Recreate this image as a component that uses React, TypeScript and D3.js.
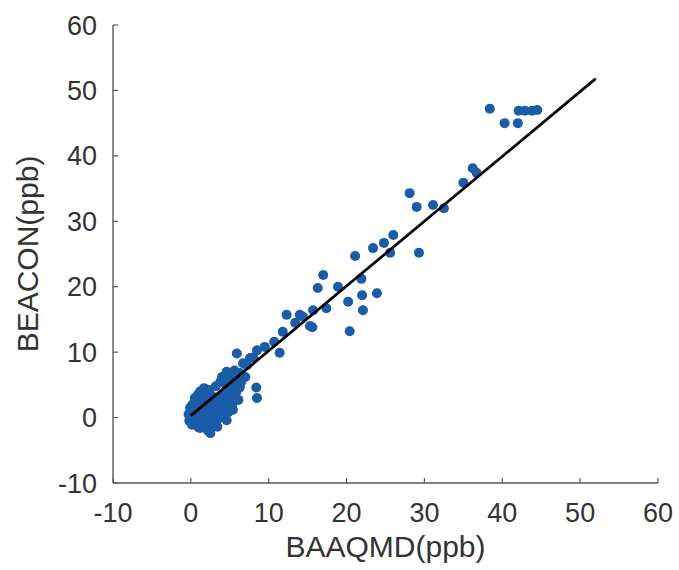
import React from "react";
import * as d3 from "d3";

const xTicks = [-10, 0, 10, 20, 30, 40, 50, 60];
const yTicks = [-10, 0, 10, 20, 30, 40, 50, 60];
const xLabel = "BAAQMD(ppb)";
const yLabel = "BEACON(ppb)";

// BAAQMD values (x)
const baaqmd = [
  -0.3, -0.2, 0.0, 0.1, 0.2, 0.3, 0.4, 0.5, 0.6, 0.7, 0.8, 0.9, 1.0, 1.0, 1.1, 1.2, 1.3, 1.4, 1.5, 1.5,
  1.6, 1.7, 1.8, 1.9, 2.0, 2.0, 2.1, 2.2, 2.3, 2.4, 2.5, 2.6, 2.7, 2.8, 2.9, 3.0, 3.0, 3.2, 3.3, 3.4,
  3.5, 3.6, 3.8, 3.9, 4.0, 4.0, 4.2, 4.3, 4.5, 4.6, 4.7, 4.8, 5.0, 5.0, 5.2, 5.3, 5.5, 5.6, 5.8, 5.9,
  6.0, 6.2, 6.3, 6.5, 6.7, 7.0, 7.2, 7.6, 8.0, 8.5, 8.4, 8.5, 9.5, 10.7, 11.4, 11.8, 12.3, 13.4, 14.0, 14.4,
  15.3, 15.6, 15.7, 17.4, 16.3, 17.0, 18.9, 20.2, 20.4, 21.9, 22.0, 22.1, 23.9, 21.1, 23.4, 24.8, 25.6, 26.0,
  29.3, 28.1, 29.0, 31.1, 32.5, 35.0, 36.2, 36.7, 38.4, 40.3, 42.0, 42.1, 42.9, 43.8, 44.5,
  1.56, 0.79, -0.1, 0.15, 1.2, 2.5, 3.4, 4.6, 5.4, 6.1, 5.0, 3.4, 2.2, 3.5, 6.3, 5.7
];
// BEACON values (y)
const beacon = [
  0.5, -0.5, 1.0, -0.8, 2.0, 0.2, -1.0, 3.0, 1.2, -0.3, 2.5, 3.5, 0.5, -1.5, 1.8, 4.0, 2.8, -0.8, 0.0, 3.2,
  1.0, 4.5, 2.2, -1.2, 3.8, 0.3, 1.5, -2.0, 2.8, 4.2, -0.5, 1.0, -1.5, 3.2, 0.2, 2.0, -1.0, 4.8, 1.2, -0.3,
  3.0, 0.8, 5.5, 2.2, 6.2, 0.2, 3.5, 1.5, 5.0, 7.0, 2.5, 0.8, 4.2, 6.0, 3.0, 1.8, 5.2, 7.2, 3.8, 9.8,
  5.8, 4.5, 6.8, 5.5, 8.3, 6.2, 8.0, 9.1, 9.2, 10.3, 4.6, 3.0, 10.8, 11.6, 9.9, 13.1, 15.7, 14.5, 15.7, 15.4,
  14.0, 13.8, 16.4, 16.7, 19.8, 21.8, 20.0, 17.7, 13.2, 21.2, 18.7, 16.4, 19.0, 24.7, 25.9, 26.7, 25.2, 27.9,
  25.2, 34.3, 32.2, 32.5, 32.0, 35.9, 38.1, 37.4, 47.2, 45.0, 45.0, 46.9, 46.9, 46.9, 47.0,
  4.2, 2.7, 1.5, -1.1, -1.6, -2.4, -1.4, -0.4, 1.2, 2.7, 2.7, 2.7, 0.7, 1.5, 4.7, 5.7
];
// fit line endpoints
const fitX = [0, 52];
const fitY = [0.3, 51.8];

export default function App() {
  const x = d3.scaleLinear().domain([-10, 60]).range([113, 658]);
  const y = d3.scaleLinear().domain([-10, 60]).range([483, 25]);
  const axisColor = "#5a5a5a";
  const textColor = "#333";
  const font = "'Liberation Sans', Arial, Helvetica, sans-serif";
  const line = d3.line<number>().x((_, i) => x(fitX[i])).y((_, i) => y(fitY[i]));
  const pts = baaqmd.map((v, i) => [v, beacon[i]]);
  return (
    <svg width={679} height={570} style={{ position: "absolute", left: 0, top: 0, background: "#fff" }} fontFamily={font}>
      <rect width={679} height={570} fill="#fff" />
      <line x1={x(-10)} x2={x(-10)} y1={y(60)} y2={y(-10)} stroke={axisColor} strokeWidth={1.4} />
      <line x1={x(-10)} x2={x(60)} y1={y(-10)} y2={y(-10)} stroke={axisColor} strokeWidth={1.4} />
      {xTicks.map((t) => (
        <g key={"xt" + t}>
          <line x1={x(t)} x2={x(t)} y1={y(-10)} y2={y(-10) - 5} stroke={axisColor} strokeWidth={1.2} />
          <text x={x(t)} y={522} textAnchor="middle" fontSize={27} fill={textColor}>{t}</text>
        </g>
      ))}
      {yTicks.map((t) => (
        <g key={"yt" + t}>
          <line x1={x(-10)} x2={x(-10) + 5} y1={y(t)} y2={y(t)} stroke={axisColor} strokeWidth={1.2} />
          <text x={97} y={y(t) + 9.5} textAnchor="end" fontSize={27} fill={textColor}>{t}</text>
        </g>
      ))}
      <text x={(x(-10) + x(60)) / 2} y={557} textAnchor="middle" fontSize={30} fill={textColor}>{xLabel}</text>
      <text transform={`translate(38,${(y(-10) + y(60)) / 2}) rotate(-90)`} textAnchor="middle" fontSize={30} fill={textColor}>{yLabel}</text>
      {pts.map(([a, b], i) => (
        <circle key={i} cx={x(a)} cy={y(b)} r={5} fill="#1a5ca8" />
      ))}
      <path d={line([0, 1]) || ""} stroke="#000" strokeWidth={2.7} fill="none" />
    </svg>
  );
}
